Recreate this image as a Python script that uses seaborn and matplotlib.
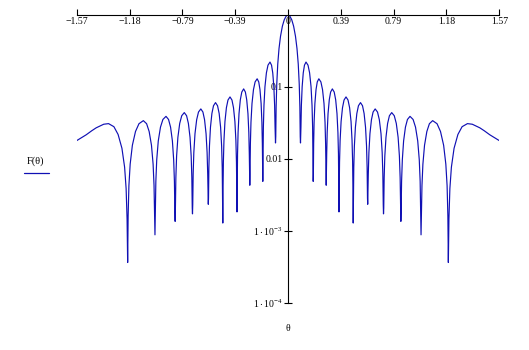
import numpy as np
import pandas as pd
import matplotlib
matplotlib.use('Agg')
import matplotlib.pyplot as plt
import seaborn as sns
from matplotlib.lines import Line2D
from matplotlib.ticker import NullLocator

# Curve (right half, theta >= 0); the pattern is symmetric about 0
theta_pos = [0.0, 0.0139, 0.0279, 0.0418, 0.0557, 0.0669, 0.0762, 0.0836, 0.0883, 0.0910, 0.0929,
             0.0962, 0.0994, 0.1052, 0.1134, 0.1224, 0.1338, 0.1488, 0.1606, 0.1713, 0.1787, 0.1830, 0.1857, 0.1873,
             0.1886, 0.1907, 0.1940, 0.1999, 0.2083, 0.2175, 0.2293, 0.2446, 0.2567, 0.2676, 0.2753, 0.2796, 0.2824, 0.2840,
             0.2877, 0.2913, 0.2977, 0.3069, 0.3169, 0.3297, 0.3435, 0.3544, 0.3642, 0.3711, 0.3751, 0.3775, 0.3790,
             0.3806, 0.3832, 0.3874, 0.3947, 0.4051, 0.4166, 0.4312, 0.4462, 0.4580, 0.4687, 0.4761, 0.4804, 0.4831, 0.4847,
             0.4863, 0.4890, 0.4934, 0.5010, 0.5118, 0.5237, 0.5389, 0.5539, 0.5657, 0.5764, 0.5839, 0.5882, 0.5909, 0.5925,
             0.5969, 0.6014, 0.6092, 0.6203, 0.6325, 0.6480, 0.6654, 0.6790, 0.6914, 0.7001, 0.7050, 0.7081, 0.7100,
             0.7118, 0.7149, 0.7198, 0.7283, 0.7405, 0.7539, 0.7710, 0.7900, 0.8050, 0.8186, 0.8281, 0.8336, 0.8370, 0.8390,
             0.8410, 0.8444, 0.8499, 0.8594, 0.8730, 0.8880, 0.9070, 0.9300, 0.9480, 0.9644, 0.9759, 0.9824, 0.9865, 0.9890,
             0.9916, 0.9959, 1.0028, 1.0149, 1.0322, 1.0511, 1.0753, 1.1080, 1.1337, 1.1570, 1.1733, 1.1827, 1.1885, 1.1920,
             1.1963, 1.2034, 1.2147, 1.2346, 1.2630, 1.2942, 1.3340, 1.3700, 1.4260, 1.4600, 1.5000, 1.5500, 1.5708]
F_pos = [1.0, 0.963, 0.858, 0.699, 0.505, 0.341, 0.208, 0.109, 0.0524, 0.0204, 0.0167,
         0.0278, 0.0552, 0.1008, 0.1570, 0.2009, 0.222, 0.2009, 0.1570, 0.1008, 0.0552, 0.0278, 0.0105, 0.00489,
         0.00612, 0.0163, 0.0323, 0.0590, 0.0919, 0.1176, 0.130, 0.1176, 0.0919, 0.0590, 0.0323, 0.0163, 0.00612, 0.00432,
         0.0118, 0.0234, 0.0427, 0.0665, 0.0851, 0.0941, 0.0851, 0.0665, 0.0427, 0.0234, 0.0118, 0.00443, 0.00184,
         0.00343, 0.00912, 0.0181, 0.0331, 0.0515, 0.0659, 0.0728, 0.0659, 0.0515, 0.0331, 0.0181, 0.00912, 0.00343, 0.00129,
         0.00286, 0.00761, 0.0151, 0.0276, 0.0429, 0.0549, 0.0607, 0.0549, 0.0429, 0.0276, 0.0151, 0.00761, 0.00286, 0.00235,
         0.00621, 0.0123, 0.0225, 0.0351, 0.0449, 0.0496, 0.0449, 0.0351, 0.0225, 0.0123, 0.00621, 0.00234, 0.00173,
         0.00208, 0.00553, 0.0110, 0.0200, 0.0312, 0.0399, 0.0441, 0.0399, 0.0312, 0.0200, 0.0110, 0.00553, 0.00208, 0.00136,
         0.00184, 0.00490, 0.00972, 0.0178, 0.0277, 0.0354, 0.0391, 0.0354, 0.0277, 0.0178, 0.00972, 0.00490, 0.00184, 0.000885,
         0.00161, 0.00427, 0.00848, 0.0155, 0.0241, 0.0309, 0.0341, 0.0309, 0.0241, 0.0155, 0.00848, 0.00427, 0.00161, 0.000365,
         0.00146, 0.00388, 0.00771, 0.0141, 0.0219, 0.0281, 0.0310, 0.0304, 0.0271, 0.0246, 0.0217, 0.0190, 0.0180]

x_ticks = [-1.5708, -1.1781, -0.7854, -0.3927, 0.0, 0.3927, 0.7854, 1.1781, 1.5708]
x_tick_labels = ['\u22121.57', '\u22121.18', '\u22120.79', '\u22120.39', '0',
                 '0.39', '0.79', '1.18', '1.57']
y_ticks = [1e-4, 1e-3, 1e-2, 1e-1]
y_tick_labels = [r'$\mathregular{1\cdot10^{-4}}$', r'$\mathregular{1\cdot10^{-3}}$', '0.01', '0.1']
legend_label = 'F(\u03b8)'
x_label = '\u03b8'

theta = [-t for t in theta_pos[:0:-1]] + theta_pos
F = F_pos[:0:-1] + F_pos
df = pd.DataFrame({'theta': theta, 'F': F})

sns.set_theme(style='white')
plt.rcParams['font.family'] = ['Liberation Serif', 'DejaVu Serif']
plt.rcParams['mathtext.fontset'] = 'custom'
plt.rcParams['mathtext.rm'] = 'Liberation Serif'
plt.rcParams['mathtext.it'] = 'Liberation Serif:italic'

blue = '#1010b4'
W, H = 529, 350
fig = plt.figure(figsize=(W / 100, H / 100), dpi=100)
ax = fig.add_axes([76.7 / W, 47 / H, (499.3 - 76.7) / W, 288 / H])
ax.set_facecolor('white')

sns.lineplot(data=df, x='theta', y='F', ax=ax, sort=False, estimator=None,
             color=blue, linewidth=0.85)

ax.set_yscale('log')
ax.set_xlim(-np.pi / 2, np.pi / 2)
ax.set_ylim(1e-4, 1)

for s in ['bottom', 'right']:
    ax.spines[s].set_visible(False)
ax.spines['left'].set_position(('data', 0))
for s in ['top', 'left']:
    ax.spines[s].set_color('black')
    ax.spines[s].set_linewidth(0.8)

ax.xaxis.tick_top()
ax.set_xticks(x_ticks, x_tick_labels)
ax.tick_params(axis='x', which='major', direction='out', length=4.3, width=0.8,
               pad=-12.5, labelsize=7, colors='black', top=True, bottom=False,
               labeltop=True, labelbottom=False)
ax.set_yticks(y_ticks, y_tick_labels)
ax.yaxis.set_minor_locator(NullLocator())
ax.tick_params(axis='y', which='major', direction='inout', length=5.8, width=0.8,
               pad=1, labelsize=7, colors='black', left=True, right=False)
ax.tick_params(axis='y', which='minor', left=False, right=False)

ax.set_ylabel('')
ax.xaxis.set_label_position('bottom')
ax.set_xlabel(x_label, fontsize=7, labelpad=15, color='black')

fig.text(35.5 / W, 1 - 161.5 / H, legend_label, ha='center', va='center',
         fontsize=7.5, color='black')
fig.add_artist(Line2D([24 / W, 49 / W], [1 - 172.7 / H, 1 - 172.7 / H],
                      transform=fig.transFigure, color=blue, linewidth=0.9))

fig.savefig('out.png', dpi=100)
